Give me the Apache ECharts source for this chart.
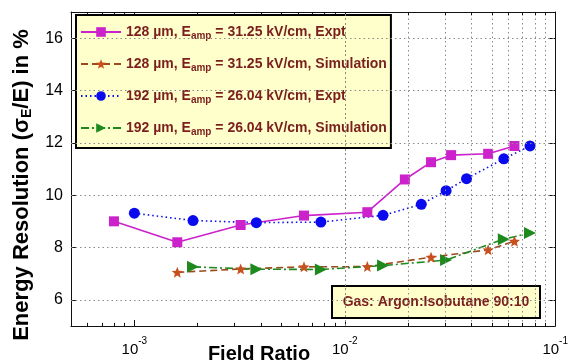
<!DOCTYPE html>
<html><head><meta charset="utf-8">
<script src="https://cdn.jsdelivr.net/npm/echarts@6/dist/echarts.min.js"></script>
<style>html,body{margin:0;padding:0;background:#fff}#c{width:571px;height:363px}</style>
</head><body><div id="c"></div>
<script>
// ---- data ----
const x128Expt = [0.0008, 0.0016, 0.0032, 0.0064, 0.0128, 0.0193, 0.0257, 0.032, 0.048, 0.064];
const y128Expt = [9.0, 8.2, 8.86, 9.22, 9.35, 10.6, 11.26, 11.53, 11.58, 11.88];
const x128Sim = [0.0016, 0.0032, 0.0064, 0.0128, 0.0257, 0.048, 0.064];
const y128Sim = [7.05, 7.18, 7.26, 7.27, 7.63, 7.91, 8.24];
const x192Expt = [0.001, 0.0019, 0.0038, 0.0077, 0.0152, 0.0231, 0.0303, 0.0379, 0.057, 0.0759];
const y192Expt = [9.31, 9.03, 8.95, 8.97, 9.23, 9.65, 10.17, 10.63, 11.39, 11.88];
const x192Sim = [0.0019, 0.0038, 0.0077, 0.0152, 0.0303, 0.057, 0.0759];
const y192Sim = [7.26, 7.17, 7.16, 7.31, 7.52, 8.32, 8.55];
const seriesNames = [
  '128 µm, Eamp = 31.25 kV/cm, Expt',
  '128 µm, Eamp = 31.25 kV/cm, Simulation',
  '192 µm, Eamp = 26.04 kV/cm, Expt',
  '192 µm, Eamp = 26.04 kV/cm, Simulation'
];
const yTicks = [6, 8, 10, 12, 14, 16];
const xDecades = [-4, -3, -2, -1];
const yTitle = 'Energy Resolution (σ{sub|E}/E) in %';
const xTitle = 'Field Ratio';
const noteText = 'Gas: Argon:Isobutane 90:10';

const X_MIN = 0.0005, X_MAX = 0.1, Y_MIN = 5, Y_MAX = 17;
const FONT = "'Liberation Sans',Arial,sans-serif";
const MAROON = '#7A1E1E';

function pairs(xs, ys) { return xs.map((x, i) => [x, ys[i]]); }

// log grid values: 1..9 x each decade inside the range
const xGridVals = [];
xDecades.forEach(d => { for (let m = 1; m <= 9; m++) { const v = m * Math.pow(10, d); if (v > X_MIN * 1.001 && v < X_MAX * 0.999) xGridVals.push({ v: +v.toPrecision(3), major: m === 1 }); } });

const gridLines = xGridVals.map(g => ({ xAxis: g.v })).concat(yTicks.map(v => ({ yAxis: v })));
// minor log ticks (bottom and top edges), in data space
const TL = 0.12;
const minorTicks = [];
xGridVals.filter(g => !g.major).forEach(g => {
  minorTicks.push([{ coord: [g.v, Y_MIN] }, { coord: [g.v, Y_MIN + TL] }]);
  minorTicks.push([{ coord: [g.v, Y_MAX] }, { coord: [g.v, Y_MAX - TL] }]);
});

const STAR = 'path://M0,-10 L2.6,-3.6 L9.5,-3.1 L4.2,1.4 L5.9,8.1 L0,4.4 L-5.9,8.1 L-4.2,1.4 L-9.5,-3.1 L-2.6,-3.6 Z';

function supLabel(v) {
  const l = Math.log10(v);
  if (Math.abs(l - Math.round(l)) > 1e-6) return '';
  return '{b|10}{s|' + Math.round(l) + '}';
}

const axisCommon = {
  axisLine: { show: true, lineStyle: { color: '#111', width: 1 } },
  splitLine: { show: false }
};

const chart = echarts.init(document.getElementById('c'), null, { renderer: 'canvas' });
const option = {
  animation: false,
  backgroundColor: '#fff',
  grid: { left: 71, right: 9, top: 12, bottom: 37 },
  xAxis: [Object.assign({
    type: 'log', logBase: 10, min: X_MIN, max: X_MAX,
    axisTick: { show: true, inside: true, length: 6, lineStyle: { color: '#111' } },
    axisLabel: {
      margin: 10, formatter: supLabel, showMinLabel: false,
      rich: {
        b: { fontSize: 15, fontFamily: FONT, color: '#000', padding: [6, 0, 0, 0] },
        s: { fontSize: 10, fontFamily: FONT, color: '#000', verticalAlign: 'top' }
      }
    }
  }, axisCommon), Object.assign({
    type: 'log', logBase: 10, min: X_MIN, max: X_MAX, position: 'top',
    axisTick: { show: true, inside: true, length: 6, lineStyle: { color: '#111' } },
    axisLabel: { show: false }
  }, axisCommon)],
  yAxis: [Object.assign({
    type: 'value', min: Y_MIN, max: Y_MAX, interval: 1,
    axisTick: { show: true, inside: true, length: 6, lineStyle: { color: '#111' }, customValues: yTicks },
    axisLabel: { margin: 8, fontSize: 16, fontFamily: FONT, color: '#000', customValues: yTicks }
  }, axisCommon), Object.assign({
    type: 'value', min: Y_MIN, max: Y_MAX, interval: 1, position: 'right',
    axisTick: { show: true, inside: true, length: 6, lineStyle: { color: '#111' }, customValues: yTicks },
    axisLabel: { show: false }
  }, axisCommon)],
  legend: {
    orient: 'vertical', left: 76, top: 15,
    backgroundColor: '#FFFFCC', borderColor: '#000', borderWidth: 2,
    padding: [10, 4, 11, 4], itemGap: 16, itemWidth: 40, itemHeight: 12,
    data: seriesNames,
    formatter: n => n.replace('Eamp', 'E{sub|amp}'),
    textStyle: {
      color: MAROON, fontSize: 14, fontFamily: FONT, fontWeight: 'bold',
      rich: { sub: { color: MAROON, fontSize: 10, fontFamily: FONT, fontWeight: 'bold', verticalAlign: 'bottom', padding: [8, 0, 0, 0] } }
    }
  },
  graphic: [
    {
      type: 'text', x: 22, y: 185, rotation: Math.PI / 2, z: 10,
      style: {
        text: yTitle, fill: '#000', font: 'bold 22px ' + FONT, align: 'center', verticalAlign: 'middle',
        rich: { sub: { fontSize: 14, fontWeight: 'bold', fontFamily: FONT, fill: '#000', verticalAlign: 'bottom', padding: [10, 0, 0, 0] } }
      }
    },
    {
      type: 'text', x: 259, y: 354, z: 10,
      style: { text: xTitle, fill: '#000', font: 'bold 20px ' + FONT, align: 'center', verticalAlign: 'middle' }
    },
    {
      type: 'group', left: 331, top: 285, z: 10,
      children: [
        { type: 'rect', shape: { x: 0, y: 0, width: 208, height: 32 }, style: { fill: '#FFFFCC', stroke: '#000', lineWidth: 2 } },
        { type: 'text', x: 104, y: 16, style: { text: noteText, fill: MAROON, font: 'bold 14px ' + FONT, align: 'center', verticalAlign: 'middle' } }
      ]
    }
  ],
  series: [
    {
      type: 'line', name: '__grid', data: [], silent: true, z: 1,
      markLine: { silent: true, symbol: ['none', 'none'], label: { show: false }, animation: false,
        lineStyle: { type: [1.5, 3], color: '#8a8a8a', width: 1 }, emphasis: { disabled: true }, data: gridLines }
    },
    {
      type: 'line', name: '__ticks', data: [], silent: true, z: 2,
      markLine: { silent: true, symbol: ['none', 'none'], label: { show: false }, animation: false,
        lineStyle: { type: 'solid', color: '#111', width: 1 }, emphasis: { disabled: true }, data: minorTicks }
    },
    {
      type: 'line', name: seriesNames[0], data: pairs(x128Expt, y128Expt), z: 3,
      symbol: 'rect', symbolSize: 10, color: '#CC22CC',
      lineStyle: { color: '#CC22CC', width: 1.6, type: 'solid' }, itemStyle: { color: '#CC22CC' }
    },
    {
      type: 'line', name: seriesNames[1], data: pairs(x128Sim, y128Sim), z: 3,
      symbol: STAR, symbolSize: 11, color: '#C8501E',
      lineStyle: { color: '#9A4A1C', width: 1.6, type: [7, 4] }, itemStyle: { color: '#C8501E' }
    },
    {
      type: 'line', name: seriesNames[2], data: pairs(x192Expt, y192Expt), z: 3,
      symbol: 'circle', symbolSize: 11, color: '#0A0AEE',
      lineStyle: { color: '#0A0AEE', width: 1.6, type: [1.5, 3] }, itemStyle: { color: '#0A0AEE' }
    },
    {
      type: 'line', name: seriesNames[3], data: pairs(x192Sim, y192Sim), z: 3,
      symbol: 'triangle', symbolRotate: -90, symbolSize: 12, color: '#1E8A1E',
      lineStyle: { color: '#1E8A1E', width: 1.6, type: [8, 3, 2, 3] }, itemStyle: { color: '#1E8A1E' }
    }
  ]
};
chart.setOption(option);
</script>
</body></html>
